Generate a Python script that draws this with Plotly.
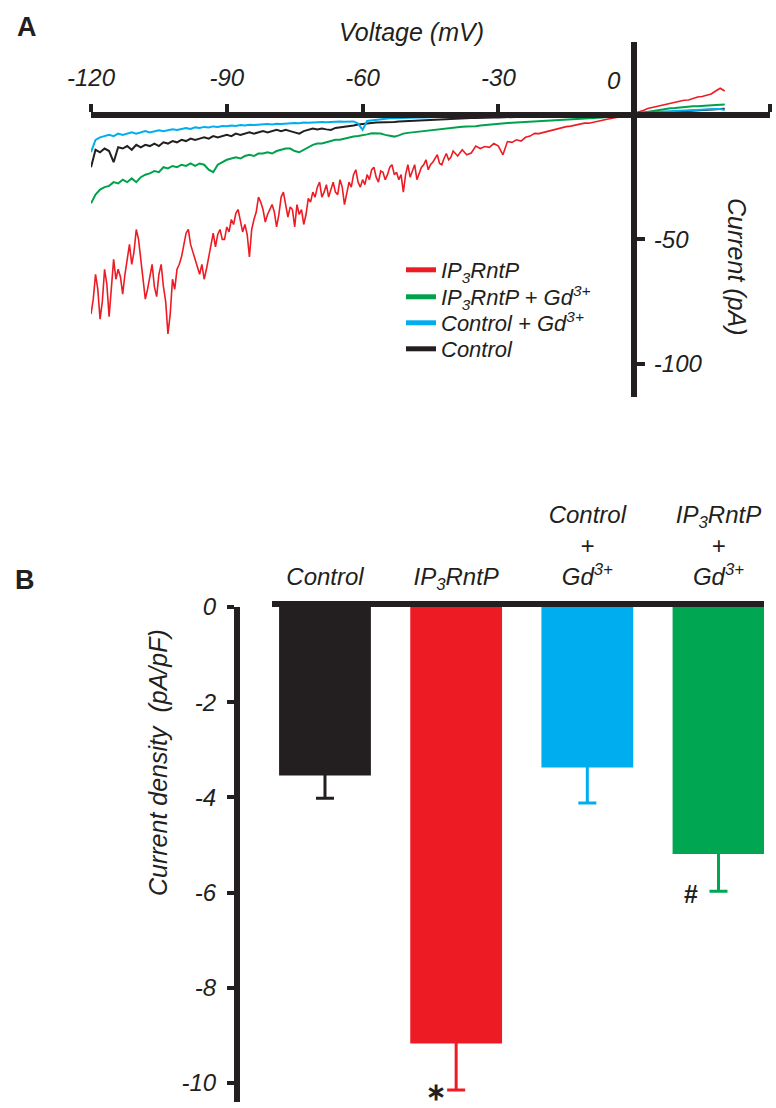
import plotly.graph_objects as go

W, H = 776, 1108
def px(x):
    return x / W
def py(y):
    return 1 - y / H

FONT = "Liberation Sans, Arial, sans-serif"
INK = "#231F20"

# ---------------- Panel A data (I-V ramps) ----------------
voltage = list(range(-120, 21))  # mV, 1 mV steps
red_voltage = [-120 + 0.5 * k for k in range(161)] + list(range(-39, 21))

ip3_current = [
    -80, -74, -64, -70, -82, -75, -62, -68, -81, -70,
    -58, -66, -62, -65, -72, -64, -57, -52, -60, -55,
    -46, -50, -58, -66, -74, -70, -64, -60, -69, -73,
    -64, -60, -69, -75, -88, -80, -66, -70, -62, -60,
    -57, -52, -47.5, -46, -52, -55, -58, -61, -64, -60,
    -66, -62, -57, -52, -47.5, -53, -48, -46, -50, -50,
    -45, -47, -42, -44, -39.5, -38, -42, -47, -44, -48,
    -57, -46, -42, -39, -33, -35, -38, -43, -40, -38,
    -36, -39, -45, -40, -33, -31, -36, -41, -37, -38,
    -45, -36, -40, -38, -44, -40, -33.5, -35, -31, -33,
    -29, -27, -33, -31, -28, -33, -30, -27, -31, -32,
    -26, -29, -36, -31, -27, -29, -24, -22, -27, -29,
    -26, -28, -24, -26, -22, -21, -25, -27, -22.5, -23,
    -26, -24, -21, -20, -24, -23, -26, -24, -31, -24,
    -20, -25, -22, -20, -26, -23, -21, -20, -18, -22,
    -20, -19, -17.5, -16, -19.5, -20, -17.4, -15.5, -18, -17,
    -14.5,
    -16.5, -14, -16, -15.3, -12.5, -13.5, -12.7, -13, -11.5,
    -12.5, -16, -10.7, -11, -10, -10.5, -9, -8.5, -7.4, -7.5,
    -7, -6.5, -6, -5.8, -5, -4.7, -4.5, -4, -3.6, -3.3,
    -3.3, -2.8, -2.4, -2.1, -1.7, -1.4, -1, -0.6, -0.4, 0,
    0.7, 1.2, 1.8, 2.6, 3, 3.4, 4, 4.3, 4.7, 5.2,
    5.6, 5.9, 6, 6.6, 7.2, 7.4, 7.8, 8.4, 9.6, 10.7,
    9.6,
]

ip3_gd_current = [
    -35.5, -32, -30, -29, -28.5, -27, -27.5, -26, -27, -25.5,
    -27, -25, -24, -23.5, -22.5, -23, -21, -21.5, -20.5, -21,
    -20, -20.5, -19.5, -20.5, -19.5, -20, -22, -23, -20, -19,
    -18, -17.5, -17, -17.5, -16.5, -16, -16.5, -15.5, -15.5, -15,
    -15.5, -14.5, -14, -13.5, -13.5, -14.5, -15, -14, -13, -12,
    -11.5, -11.5, -11, -10.5, -10, -10, -9.5, -9, -8.7, -8.5,
    -8, -7.8, -7.4, -7.5, -7.5, -8, -8.5, -8.7, -8.2, -7.5,
    -7.2, -7, -6.7, -6.5, -6.2, -6, -5.8, -5.5, -5.4, -5.1,
    -5, -4.8, -4.7, -4.6, -4.7, -4.5, -4.2, -4, -3.8, -3.6,
    -3.5, -3.3, -3.2, -3.1, -3, -3, -2.9, -2.8, -2.7, -2.7,
    -2.6, -2.5, -2.4, -2.3, -2.2, -2.1, -2, -1.9, -1.8, -1.6,
    -1.5, -1.3, -1.1, -1, -0.8, -0.7, -0.5, -0.3, -0.1, 0.1,
    0.4, 0.7, 1, 1.4, 1.8, 2, 2.2, 2.4, 2.7, 2.8,
    3, 3.2, 3.3, 3.5, 3.5, 3.7, 3.8, 3.9, 4, 4.1,
    4.2,
]

control_current = [
    -21, -14, -15, -13.5, -14.5, -19, -13, -13.5, -12.5, -14,
    -12, -13, -12, -12.5, -11.5, -12.5, -11, -11.5, -10.5, -11,
    -10, -10.5, -9.5, -10, -9.5, -9, -9.5, -8.5, -9, -8.5,
    -8, -8.5, -7.5, -8, -7.5, -7, -7.5, -7, -6.5, -7,
    -6.5, -6, -6.5, -6, -6.5, -7, -7.5, -6.5, -6, -5.5,
    -5.8, -5.5, -5.8, -6, -5.2, -5, -4.8, -4.6, -4.2, -3.8,
    -3.5, -3.3, -3.2, -3, -3, -2.9, -2.8, -2.8, -2.6, -2.5,
    -2.5, -2.3, -2.3, -2.1, -2, -1.9, -1.8, -1.6, -1.5, -1.4,
    -1.4, -1.3, -1.3, -1.2, -1.2, -1.2, -1.1, -1.1, -1, -1,
    -1, -0.9, -0.9, -0.8, -0.8, -0.8, -0.7, -0.7, -0.7, -0.6,
    -0.6, -0.6, -0.5, -0.5, -0.5, -0.4, -0.4, -0.4, -0.3, -0.3,
    -0.3, -0.2, -0.2, -0.2, -0.1, -0.1, 0, 0, 0.1, 0.1,
    0.2, 0.4, 0.5, 0.7, 0.8, 0.9, 1, 1.1, 1.2, 1.3,
    1.4, 1.5, 1.6, 1.7, 1.8, 1.9, 2, 2.1, 2.2, 2.3,
    2.5,
]

control_gd_current = [
    -15, -10, -9, -8.5, -8, -8.5, -7.5, -8, -7.5, -7,
    -7.5, -7, -6.5, -7, -6.5, -6.2, -6.5, -6, -5.8, -6,
    -5.5, -5.3, -5.6, -5, -5.2, -4.8, -5, -4.6, -4.8, -4.4,
    -4.5, -4.2, -4.4, -4, -4.2, -3.9, -4, -3.8, -3.9, -3.6,
    -3.8, -3.5, -3.6, -3.4, -3.5, -3.2, -3.3, -3, -3.1, -2.9,
    -3, -2.8, -2.9, -2.7, -2.8, -2.6, -2.7, -2.5, -2.6, -3.5,
    -6, -2.4, -2.2, -2, -1.5, -1.4, -1.3, -1.3, -1.2, -1.2,
    -1.1, -1.1, -1, -1, -0.9, -0.9, -0.8, -0.8, -0.7, -0.7,
    -0.6, -0.6, -0.6, -0.5, -0.5, -0.5, -0.4, -0.4, -0.4, -0.3,
    -0.3, -0.3, -0.2, -0.2, -0.2, -0.1, -0.1, -0.1, 0, 0,
    0, 0.1, 0.1, 0.1, 0.2, 0.2, 0.2, 0.3, 0.3, 0.3,
    0.4, 0.4, 0.4, 0.5, 0.5, 0.5, 0.6, 0.6, 0.7, 0.7,
    0.8, 0.9, 1, 1.1, 1.2, 1.3, 1.4, 1.5, 1.6, 1.7,
    1.8, 1.9, 2, 2.1, 2.2, 2.2, 2.3, 2.3, 2.4, 2.4,
    2.0,
]

voltage_ticks = [-120, -90, -60, -30, 0, 30]
voltage_ticktext = ["-120", "-90", "-60", "-30", "", "30"]
current_ticks = [-50, -100]

# ---------------- Panel B data (current density) ----------------
groups = ["Control", "IP<sub>3</sub>RntP",
          "Control<br>+<br>Gd<sup>3+</sup>",
          "IP<sub>3</sub>RntP<br>+<br>Gd<sup>3+</sup>"]
density = [-3.54, -9.17, -3.37, -5.19]
density_err = [0.48, 0.98, 0.75, 0.78]
bar_colors = ["#231F20", "#ED1C24", "#00AEEF", "#00A651"]
density_ticks = [0, -2, -4, -6, -8, -10]

fig = go.Figure()

# Panel A traces
traces_a = [
    ("Control", voltage, control_current, "#231F20", 2.0),
    ("Control + Gd<sup>3+</sup>", voltage, control_gd_current, "#00AEEF", 2.0),
    ("IP<sub>3</sub>RntP + Gd<sup>3+</sup>", voltage, ip3_gd_current, "#00A14B", 2.0),
    ("IP<sub>3</sub>RntP", red_voltage, ip3_current, "#ED1C24", 1.6),
]
for name, xs, ys, col, lw in traces_a:
    fig.add_trace(go.Scatter(x=xs, y=ys, mode="lines", name=name,
                             line=dict(color=col, width=lw),
                             showlegend=False, xaxis="x", yaxis="y"))

# legend-only entries (thick swatches), one legend per row for exact spacing
legend_rows = [("IP<sub>3</sub>RntP", "#ED1C24", "legend", 270),
               ("IP<sub>3</sub>RntP + Gd<sup>3+</sup>", "#00A14B", "legend2", 297),
               ("Control + Gd<sup>3+</sup>", "#00AEEF", "legend3", 323),
               ("Control", "#231F20", "legend4", 349)]
for name, col, lg, _ in legend_rows:
    fig.add_trace(go.Scatter(x=[None], y=[None], mode="lines", name=name,
                             line=dict(color=col, width=5), legend=lg,
                             xaxis="x", yaxis="y"))

# Panel B bars (tiny plus-side value keeps the upper cap hidden inside the bar)
for i in range(4):
    fig.add_trace(go.Bar(
        x=[i], y=[density[i]], width=0.70,
        marker=dict(color=bar_colors[i], line=dict(width=0)),
        error_y=dict(type="data", symmetric=False, array=[0.06],
                     arrayminus=[density_err[i]], color=bar_colors[i],
                     thickness=3, width=9),
        showlegend=False, xaxis="x2", yaxis="y2"))

tickfont = dict(family=FONT, size=24, color=INK, style="italic")

legends = {}
for name, col, lg, yc in legend_rows:
    legends[lg] = dict(x=px(401), y=py(yc), xanchor="left", yanchor="middle",
                       bgcolor="rgba(0,0,0,0)", borderwidth=0,
                       font=dict(family=FONT, size=22, color=INK, style="italic"),
                       itemwidth=30)

fig.update_layout(
    template="none",
    width=W, height=H,
    margin=dict(l=0, r=0, t=0, b=0, pad=0, autoexpand=False),
    paper_bgcolor="white", plot_bgcolor="rgba(0,0,0,0)",
    font=dict(family=FONT, color=INK),
    showlegend=True,
    xaxis=dict(domain=[px(91), px(770)], range=[-120, 30],
               anchor="free", position=py(115), side="top", automargin=False,
               showline=True, linewidth=6, linecolor=INK,
               ticks="outside", ticklen=8, tickwidth=4, tickcolor=INK,
               tickvals=voltage_ticks, ticktext=voltage_ticktext,
               tickfont=tickfont, ticklabelstandoff=8,
               showgrid=False, zeroline=False),
    yaxis=dict(domain=[py(397), py(42)], range=[-113.3, 29.3],
               anchor="free", position=px(634), side="right", automargin=False,
               showline=True, linewidth=6, linecolor=INK,
               ticks="outside", ticklen=8, tickwidth=4, tickcolor=INK,
               tickvals=current_ticks, ticktext=[str(t) for t in current_ticks],
               tickfont=tickfont, ticklabelstandoff=4,
               showgrid=False, zeroline=False),
    xaxis2=dict(domain=[px(272), px(764)], range=[-0.404, 3.347],
                anchor="y2", side="top", automargin=False,
                showline=True, linewidth=6, linecolor=INK,
                ticks="", tickvals=[0, 1, 2, 3], ticktext=groups,
                tickfont=dict(family=FONT, size=24, color=INK, style="italic"),
                ticklabelstandoff=6,
                showgrid=False, zeroline=False),
    yaxis2=dict(domain=[py(1102), py(607)], range=[-10.4, 0],
                anchor="free", position=px(237), side="left", automargin=False,
                showline=True, linewidth=6, linecolor=INK,
                ticks="outside", ticklen=7, tickwidth=4, tickcolor=INK,
                tickvals=density_ticks, ticktext=[str(t) for t in density_ticks],
                tickfont=tickfont, ticklabelstandoff=6,
                showgrid=False, zeroline=False),
    **legends,
)

def note(text, x, y, size, italic=False, angle=0):
    f = dict(family=FONT, size=size, color=INK)
    if italic:
        f["style"] = "italic"
    return dict(text=text, x=px(x), y=py(y), xref="paper", yref="paper",
                xanchor="center", yanchor="middle", textangle=angle,
                showarrow=False, font=f)

ann = [
    note("<b>A</b>", 27, 27, 27),
    note("<b>B</b>", 25, 580, 27),
    note("Voltage (mV)", 411, 32, 25, italic=True),
    note("0", 614, 80, 24, italic=True),
    note("Current (pA)", 737, 267, 25, italic=True, angle=90),
    note("Current density  (pA/pF)", 158, 763, 25, italic=True, angle=-90),
    note("<b>\u2217</b>", 436, 1091, 24),
    note("<b>#</b>", 691, 894, 25),
]
fig.update_layout(annotations=ann)

fig.write_html("out.html", post_script="document.body.style.margin='0';",
               config={"displayModeBar": False})
